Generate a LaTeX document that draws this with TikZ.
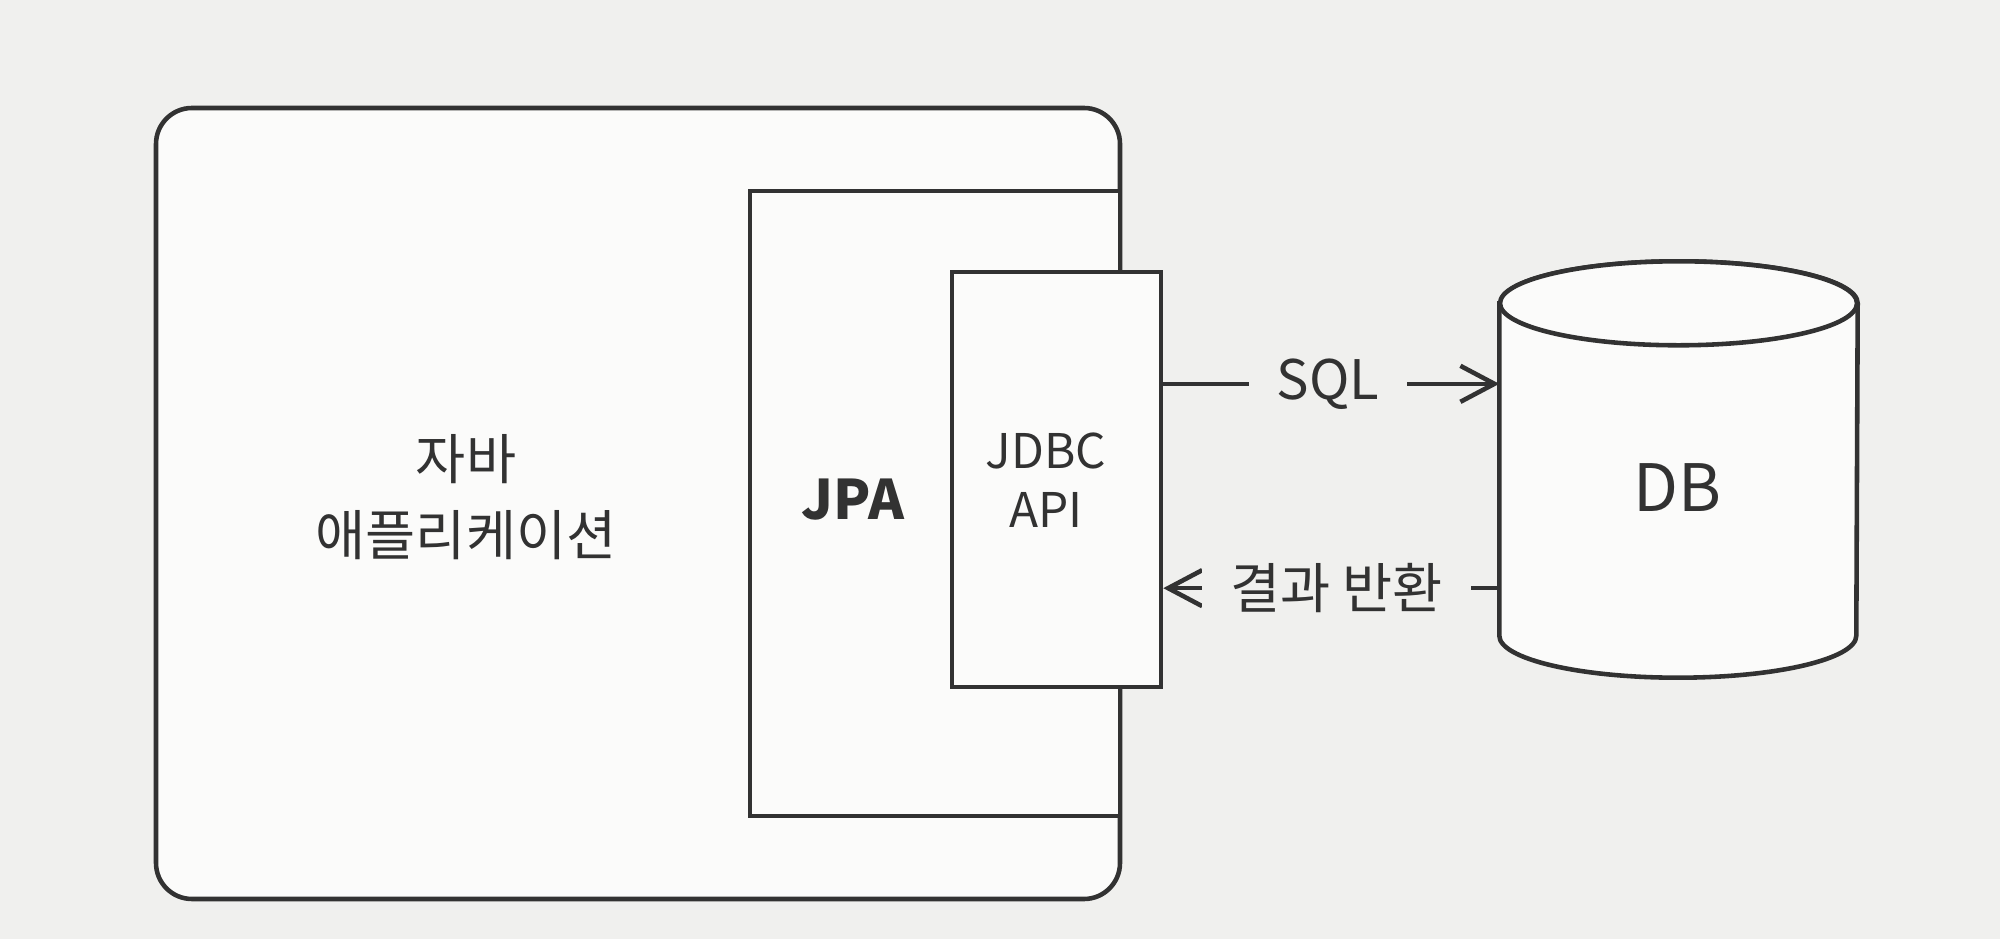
\documentclass[tikz,border=0pt]{standalone}
\usepackage{fontspec}
\setmainfont{Noto Sans CJK KR}
\usetikzlibrary{arrows.meta,calc}
\definecolor{page_gray}{RGB}{240,240,238}
\definecolor{box_white}{RGB}{251,251,250}
\definecolor{ink}{RGB}{50,50,50}
\tikzset{
  every node/.style = {text=ink},
  plainbox/.style = {draw=ink, line width=1.3pt, fill=box_white, inner sep=0pt},
  app_box/.style = {plainbox, rounded corners=0.36cm, minimum width=9.64cm, minimum height=7.91cm},
  jpa_box/.style = {plainbox, minimum width=3.7cm, minimum height=6.25cm},
  jdbc_box/.style = {plainbox, minimum width=2.09cm, minimum height=4.15cm},
  db_frame/.style = {inner sep=0pt, minimum width=3.57cm, minimum height=4.15cm},
  flow/.style = {draw=ink, line width=1.3pt, -{Straight Barb[length=3.4mm,width=3.6mm,line width=1.3pt]}},
  flow_label/.style = {fill=page_gray, inner xsep=0.28cm, inner ysep=2pt, font=\fontsize{15.5}{18}\selectfont},
  box_text/.style = {align=center, inner sep=0pt}
}

\begin{document}
\begin{tikzpicture}
	\fill[page_gray] (0,0) rectangle (20,-9.39);
	\useasboundingbox (0,0) rectangle (20,-9.39);

	\node [app_box] (app) at (6.38,-5.035) {};
	\node [jpa_box] (jpa) at (9.35,-5.035) {};
	\node [jdbc_box] (jdbc) at (10.565,-4.795) {};

	% database can
	\node [db_frame] (db) at (16.785,-4.695) {};
	\draw [plainbox] ($(db.north west)+(0,-0.42)$) -- ($(db.south west)+(0,0.42)$)
		arc [start angle=180, end angle=360, x radius=1.785cm, y radius=0.42cm]
		-- ($(db.north east)+(0,-0.42)$)
		arc [start angle=0, end angle=180, x radius=1.785cm, y radius=0.42cm] -- cycle;
	\draw [plainbox] ($(db.north)+(0,-0.42)$) ellipse [x radius=1.785cm, y radius=0.42cm];

	\node [box_text, font=\fontsize{15.5}{21.5}\selectfont] (app_text) at (4.66,-4.97) {자바\\애플리케이션};
	\node [box_text, font=\fontsize{15.5}{18}\selectfont\bfseries] (jpa_text) at (8.53,-5.0) {JPA};
	\node [box_text, font=\fontsize{13.6}{16.8}\selectfont] (jdbc_text) at (10.46,-4.80) {JDBC\\API};
	\node [box_text, font=\fontsize{18.6}{22}\selectfont] (db_text) at (16.77,-4.88) {DB};

	\coordinate (sql_out) at ($(jdbc.north east)!0.272!(jdbc.south east)$);
	\coordinate (result_in) at ($(jdbc.north east)!0.759!(jdbc.south east)$);
	\draw [flow] (sql_out) -- node [flow_label, pos=0.49] (sql) {SQL} (db.west |- sql_out);
	\draw [flow] (db.west |- result_in) -- node [flow_label, pos=0.485] (result) {결과 반환} (result_in);
\end{tikzpicture}
\end{document}
